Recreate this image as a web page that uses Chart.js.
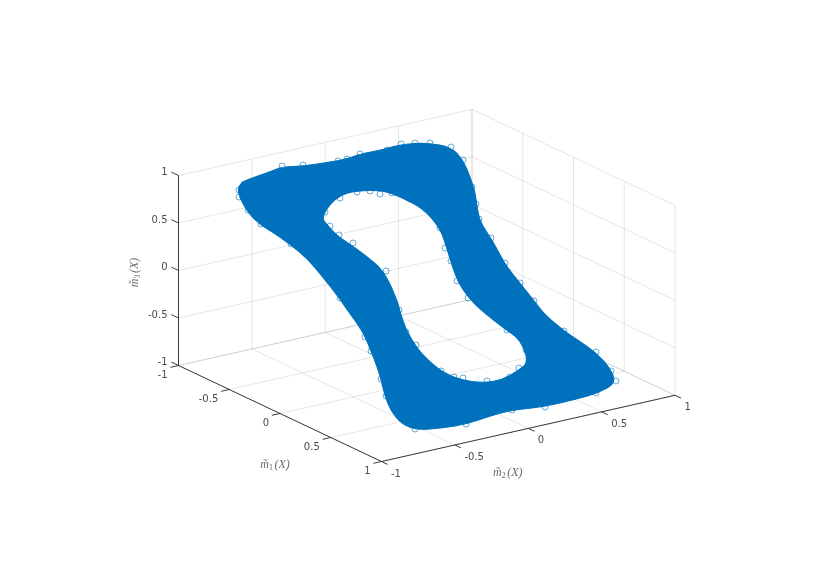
<!DOCTYPE html>
<html>
<head>
<meta charset="utf-8">
<title>3D scatter</title>
<style>
html,body{margin:0;padding:0;background:#fff;}
canvas{display:block;filter:blur(0.35px);}
</style>
<script src="https://cdn.jsdelivr.net/npm/chart.js@4"></script>
</head>
<body>
<canvas id="c" width="830" height="587"></canvas>
<script>
// Tick values and labels shared by the three axes
const tickValues = [-1, -0.5, 0, 0.5, 1];
const tickLabels = ['-1', '-0.5', '0', '0.5', '1'];
const axisTitleSubs = ['1', '2', '3'];

// Cloud, read in the flat view plane of the 3D view: outer boundary
const cloudOuter = [[237,192],[241,182],[258,176],[272,171],[282,167],[303,166],[325,163],[347,159],[360,154],[382,150],[402,144],[428,143],[451,147],[463,160],[470,177],[475,192],[477,207],[480,222],[492,240],[500,255],[507,267],[519,282],[535,302],[545,315],[564,331],[579,341],[595,352],[610,368],[616,383],[598,393],[577,399],[543,407],[513,410],[493,415],[467,424],[443,428],[417,430],[402,424],[391,411],[385,396],[381,379],[377,366],[371,351],[365,336],[357,323],[348,311],[340,299],[323,277],[308,259],[290,244],[271,231],[261,225],[248,213]];
// Cloud: boundary of the central hole
const cloudHole = [[322,219],[326,209],[335,199],[346,193],[358,191],[382,190],[401,197],[424,209],[440,228],[446,245],[451,262],[458,282],[468,297],[481,310],[505,329],[520,339],[529,362],[518,371],[502,380],[483,383],[461,380],[444,373],[432,364],[422,354],[415,345],[406,330],[400,312],[397,300],[384,271],[366,256],[351,245],[337,236],[328,226]];
// Individual open markers visible along the edges of the cloud
const edgeMarkers = [[239,190],[239,197],[244,184],[248,210],[261,224],[282,166],[303,165],[338,161],[347,159],[360,154],[387,150],[401,144],[415,143],[430,143],[451,147],[463,160],[472,187],
[291,244],[303,250],[319,266],[340,298],[365,337],[371,351],[381,379],[386,396],[415,429],[466,424],[512,410],[545,407],[596,393],[616,381],[611,371],[596,352],[564,331],[534,301],[520,283],[505,263],[491,238],[479,219],[476,204],
[340,198],[357,192],[370,191],[380,194],[392,193],[410,199],[426,209],[440,228],[445,248],[451,261],[457,281],[468,298],[507,330],[516,333],[526,350],[519,368],[510,377],[487,381],[463,378],[454,377],[441,371],[416,345],[406,332],[399,310],[386,271],[353,243],[339,235],[330,226],[325,212],[327,204]];

// View projection of the unit cube onto the view plane
const viewOrigin = [426.75, 285.4];
const viewM1 = [101.5, 48];
const viewM2 = [146.75, -33.1];
const viewM3 = [0, -95];
function project(m1, m2, m3) {
  return {
    x: viewOrigin[0] + m1 * viewM1[0] + m2 * viewM2[0] + m3 * viewM3[0],
    y: viewOrigin[1] + m1 * viewM1[1] + m2 * viewM2[1] + m3 * viewM3[1]
  };
}
const gap = {x: null, y: null};
const toXY = p => ({x: p[0], y: p[1]});

// Gridlines on the floor and the two back walls
const grid = [];
for (const t of tickValues) {
  grid.push(project(t, -1, -1), project(t, 1, -1), gap);
  grid.push(project(-1, t, -1), project(1, t, -1), gap);
  grid.push(project(t, 1, -1), project(t, 1, 1), gap);
  grid.push(project(-1, t, -1), project(-1, t, 1), gap);
  grid.push(project(-1, 1, t), project(1, 1, t), gap);
  grid.push(project(-1, -1, t), project(-1, 1, t), gap);
}
// Axis rulers with their tick marks
const rulers = [project(-1,-1,-1), project(1,-1,-1), project(1,1,-1), gap,
                project(-1,-1,-1), project(-1,-1,1), gap];
for (const t of tickValues) {
  rulers.push(project(t,-1,-1), project(t,-1.055,-1), gap);
  rulers.push(project(1,t,-1), project(1.06,t,-1), gap);
  rulers.push(project(-1,-1,t), project(-1.07,-1,t), gap);
}

// Rounded closed path through a run of the dataset's point elements
function roundedLoop(ctx, pts) {
  const n = pts.length;
  const mid = (a, b) => [(a.x + b.x) / 2, (a.y + b.y) / 2];
  ctx.moveTo(...mid(pts[n - 1], pts[0]));
  for (let i = 0; i < n; i++) {
    ctx.quadraticCurveTo(pts[i].x, pts[i].y, ...mid(pts[i], pts[(i + 1) % n]));
  }
  ctx.closePath();
}

const cloudFill = {
  id: 'cloudFill',
  beforeDatasetDraw(chart, args) {
    if (chart.data.datasets[args.index].label !== 'cloud') return;
    const ctx = chart.ctx;
    const pts = args.meta.data;
    const nOuter = cloudOuter.length;
    ctx.save();
    ctx.beginPath();
    roundedLoop(ctx, pts.slice(0, nOuter));
    roundedLoop(ctx, pts.slice(nOuter));
    ctx.fillStyle = '#0072BD';
    ctx.fill('evenodd');
    ctx.lineJoin = 'round';
    ctx.strokeStyle = '#0072BD';
    ctx.lineWidth = 1.2;
    ctx.stroke();
    ctx.restore();
  }
};

function drawTitle(ctx, sub, cx, cy, angle) {
  const big = "italic 12px 'Liberation Serif'";
  const small = "8px 'Liberation Serif'";
  ctx.save();
  ctx.translate(cx, cy);
  ctx.rotate(angle);
  ctx.fillStyle = '#6a6a6a';
  ctx.textAlign = 'left';
  ctx.textBaseline = 'alphabetic';
  ctx.font = big;
  const w1 = ctx.measureText('m\u0303').width, w3 = ctx.measureText('(X)').width;
  ctx.font = small;
  const w2 = ctx.measureText(sub).width;
  let x = -(w1 + w2 + w3 + 1.5) / 2;
  ctx.font = big;
  ctx.fillText('m\u0303', x, 4);
  x += w1;
  ctx.font = small;
  ctx.fillText(sub, x, 6);
  x += w2 + 1.5;
  ctx.font = big;
  ctx.fillText('(X)', x, 4);
  ctx.restore();
}

const axisText = {
  id: 'axisText',
  afterDatasetsDraw(chart) {
    const {ctx, scales: {x, y}} = chart;
    const at = (p, dx, dy) => [x.getPixelForValue(p.x) + dx, y.getPixelForValue(p.y) + dy];
    ctx.save();
    ctx.font = "10px 'DejaVu Sans'";
    ctx.fillStyle = '#4a4a4a';
    ctx.textBaseline = 'middle';
    tickValues.forEach((t, i) => {
      ctx.textAlign = 'right';
      ctx.fillText(tickLabels[i], ...at(project(t,-1,-1), -11, 9.5));
      ctx.fillText(tickLabels[i], ...at(project(-1,-1,t), -11, -3));
      ctx.textAlign = 'left';
      ctx.fillText(tickLabels[i], ...at(project(1,t,-1), 9.5, 12.5));
    });
    ctx.restore();
    drawTitle(ctx, axisTitleSubs[0], ...at(project(0.47,-1,-1), -52.7, 28), 0);
    drawTitle(ctx, axisTitleSubs[1], ...at(project(1,-0.17,-1), 4.5, 38), 0);
    drawTitle(ctx, axisTitleSubs[2], ...at(project(-1,-1,0.08), -44.5, 9.5), -Math.PI / 2);
  }
};

new Chart(document.getElementById('c'), {
  type: 'scatter',
  data: {
    datasets: [
      {label: 'markers', data: edgeMarkers.map(toXY), order: 0, showLine: false,
       pointStyle: 'circle', pointRadius: 3, pointBorderWidth: 0.6,
       pointBorderColor: '#0072BD', pointBackgroundColor: 'rgba(0,0,0,0)'},
      {label: 'cloud', data: cloudOuter.concat(cloudHole).map(toXY), order: 1, showLine: false,
       pointRadius: 0},
      {label: 'rulers', data: rulers, order: 2, showLine: true, pointRadius: 0,
       borderColor: '#262626', borderWidth: 0.9, spanGaps: false},
      {label: 'grid', data: grid, order: 3, showLine: true, pointRadius: 0,
       borderColor: 'rgba(38,38,38,0.13)', borderWidth: 0.9, spanGaps: false}
    ]
  },
  options: {
    responsive: false,
    animation: false,
    layout: {padding: 0, autoPadding: false},
    scales: {
      x: {type: 'linear', display: false, min: 0, max: 830},
      y: {type: 'linear', display: false, min: 0, max: 587, reverse: true}
    },
    plugins: {legend: {display: false}, title: {display: false}, tooltip: {enabled: false}}
  },
  plugins: [cloudFill, axisText]
});
</script>
</body>
</html>
